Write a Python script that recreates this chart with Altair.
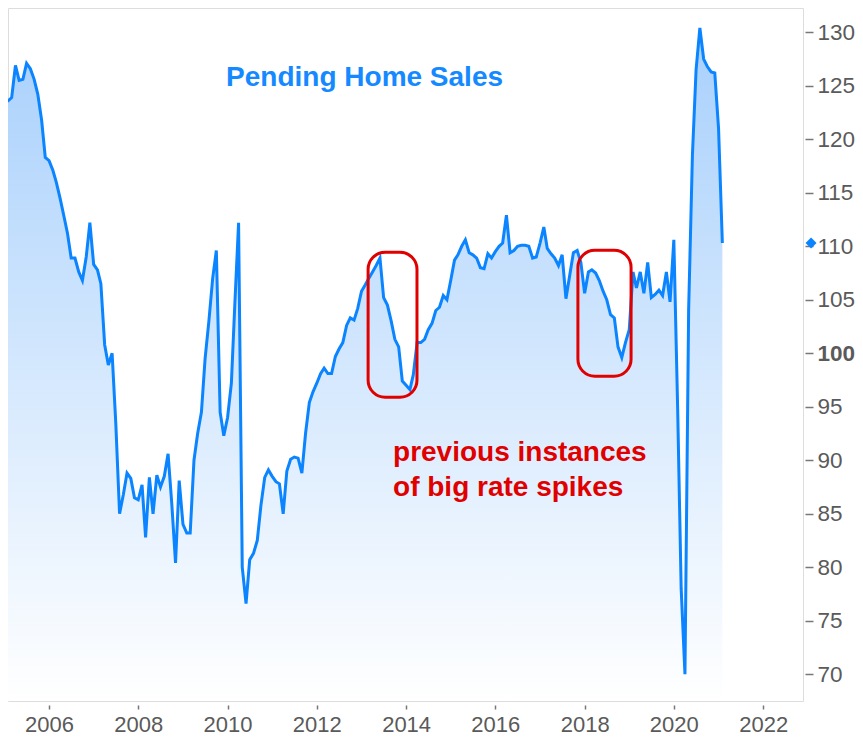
import altair as alt
import pandas as pd

# Monthly index values (Jan 2005 .. Feb 2021)
v2005 = [123.5, 123.6, 123.9, 126.9, 125.5, 125.6, 127.1, 126.6, 125.6, 124.2, 121.8, 118.3]
v2006 = [118.0, 117.1, 116.0, 114.5, 112.9, 111.2, 108.9, 108.9, 107.6, 106.8, 109.0, 112.2]
v2007 = [108.3, 107.8, 106.5, 100.8, 98.9, 100.0, 93.5, 85.0, 86.8, 88.8, 88.3, 86.5]
v2008 = [86.3, 87.7, 82.8, 88.4, 85.0, 88.6, 87.5, 88.5, 90.6, 86.0, 80.4, 88.1]
v2009 = [84.0, 83.2, 83.2, 90.0, 92.5, 94.5, 99.5, 103.0, 107.0, 109.6, 94.5, 92.3]
v2010 = [94.0, 97.2, 104.5, 112.2, 80.0, 76.6, 80.7, 81.3, 82.5, 85.8, 88.4, 89.1]
v2011 = [88.5, 88.0, 87.8, 85.0, 89.0, 90.1, 90.3, 90.2, 88.8, 92.5, 95.4, 96.4]
v2012 = [97.2, 98.1, 98.6, 98.1, 98.1, 99.7, 100.4, 101.0, 102.6, 103.3, 103.1, 104.2]
v2013 = [105.8, 106.4, 107.0, 107.6, 108.2, 108.9, 105.2, 104.5, 103.0, 101.3, 100.6, 97.4]
v2014 = [97.0, 96.6, 98.0, 101.0, 101.0, 101.3, 102.2, 102.8, 104.0, 104.3, 105.4, 105.0]
v2015 = [106.8, 108.7, 109.2, 110.0, 110.6, 109.4, 109.2, 108.9, 108.0, 107.9, 109.3, 108.9]
v2016 = [109.5, 110.0, 110.3, 112.9, 109.4, 109.6, 110.0, 110.1, 110.1, 110.0, 108.9, 109.0]
v2017 = [110.3, 111.8, 109.8, 109.3, 108.9, 108.2, 109.2, 105.1, 107.3, 109.4, 109.6, 108.5]
v2018 = [105.6, 107.6, 107.8, 107.5, 106.8, 105.8, 105.0, 103.6, 103.3, 100.6, 99.6, 101.0]
v2019 = [102.2, 107.6, 106.1, 107.6, 105.6, 108.5, 105.2, 105.5, 105.9, 105.4, 107.6, 104.8]
v2020 = [110.6, 95.0, 78.0, 70.0, 104.0, 118.5, 126.5, 130.4, 127.5, 126.8, 126.3, 126.2]
v2021 = [121.0, 110.3]

values = (v2005 + v2006 + v2007 + v2008 + v2009 + v2010 + v2011 + v2012 + v2013
          + v2014 + v2015 + v2016 + v2017 + v2018 + v2019 + v2020 + v2021)
dates = pd.date_range("2005-01-01", periods=len(values), freq="MS")
df = pd.DataFrame({"date": dates, "value": values})

# axis settings
x_ticks = [2006, 2008, 2010, 2012, 2014, 2016, 2018, 2020, 2022]
y_ticks = [70, 75, 80, 85, 90, 95, 100, 105, 110, 115, 120, 125, 130]
y_domain = [67.5, 132.27]
x_domain = [alt.DateTime(year=2005, month=1, date=30), alt.DateTime(year=2022, month=11, date=23)]

# annotations (data coordinates)
title_text = ["Pending Home Sales"]
title_date = ["2013-01-26"]
title_val = [124.95]

note_text = ["previous instances", "of big rate spikes"]
note_date = ["2013-09-16", "2013-09-16"]
note_val = [89.91, 86.64]

box_start = ["2013-02-24", "2017-11-07"]
box_end = ["2014-03-31", "2019-01-16"]
box_top = [109.44, 109.63]
box_bottom = [95.89, 97.85]

marker_date = ["2023-01-28"]
marker_val = [v2021[-1]]

LINE = "#0a84ff"
RED = "#e00000"
GREY = "#5a5a5a"
FONT = "Liberation Sans"

x_enc = alt.X(
    "date:T",
    scale=alt.Scale(domain=x_domain),
    axis=alt.Axis(
        values=[alt.DateTime(year=y, month=1, date=1) for y in x_ticks],
        format="%Y",
        labelFontSize=22,
        labelColor=GREY,
        labelFont=FONT,
        tickColor="#777777",
        tickSize=4,
        tickWidth=1.5,
        offset=4,
        domain=False,
        grid=False,
        labelPadding=5,
    ),
    title=None,
)
y_enc = alt.Y(
    "value:Q",
    scale=alt.Scale(domain=y_domain, zero=False, nice=False),
    axis=alt.Axis(
        orient="right",
        values=y_ticks,
        labelFontSize=22.5,
        labelColor=GREY,
        labelFont=FONT,
        labelFontWeight=alt.ExprRef(expr="datum.value === 100 ? 'bold' : 'normal'"),
        tickColor="#777777",
        tickSize=8,
        tickWidth=1.5,
        offset=2,
        domain=False,
        grid=False,
        labelPadding=4,
    ),
    title=None,
)

base = alt.Chart(df)

area = base.mark_area(
    clip=True,
    color=alt.Gradient(
        gradient="linear",
        stops=[
            alt.GradientStop(color="#a8d0fc", offset=0),
            alt.GradientStop(color="#ffffff", offset=1),
        ],
        x1=1, x2=1, y1=0, y2=1,
    ),
).encode(x=x_enc, y=y_enc, y2=alt.datum(y_domain[0]))

line = base.mark_line(clip=True, color=LINE, strokeWidth=3).encode(x="date:T", y="value:Q")

title_df = pd.DataFrame({"date": pd.to_datetime(title_date), "value": title_val, "text": title_text})
title = alt.Chart(title_df).mark_text(
    align="center", baseline="alphabetic", fontSize=28, fontWeight="bold", font=FONT, color="#1589ff"
).encode(x="date:T", y="value:Q", text="text:N")

note_df = pd.DataFrame({"date": pd.to_datetime(note_date), "value": note_val, "text": note_text})
note = alt.Chart(note_df).mark_text(
    align="left", baseline="alphabetic", fontSize=28, fontWeight="bold", font=FONT, color=RED
).encode(x="date:T", y="value:Q", text="text:N")

box_df = pd.DataFrame({
    "start": pd.to_datetime(box_start), "end": pd.to_datetime(box_end),
    "top": box_top, "bottom": box_bottom,
})
boxes = alt.Chart(box_df).mark_rect(
    fillOpacity=0, stroke=RED, strokeWidth=3, cornerRadius=17
).encode(x="start:T", x2="end:T", y="top:Q", y2="bottom:Q")

marker_df = pd.DataFrame({"date": pd.to_datetime(marker_date), "value": marker_val})
marker = alt.Chart(marker_df).mark_point(
    shape="diamond", filled=True, size=120, color=LINE, opacity=1, clip=False
).encode(x="date:T", y="value:Q")

chart = alt.layer(area, line, boxes, title, note, marker).properties(
    width=795,
    height=693,
    padding={"left": 0, "top": 0, "right": 0, "bottom": 2},
    background="white",
).configure_view(
    stroke="#7f7f7f", strokeWidth=2
).configure(font=FONT)

chart.save("out.html", embed_options={"renderer": "svg", "actions": False})
